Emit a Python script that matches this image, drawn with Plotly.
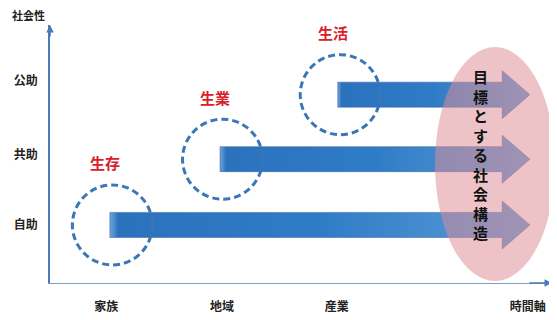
import plotly.graph_objects as go

# ---- data ----
x_labels = ["家族", "地域", "産業", "時間軸"]
x_pos = [1.12, 3.42, 5.7, 9.5]
y_labels = ["自助", "共助", "公助"]
y_label_pos = [2.25, 4.95, 7.85]
stages = ["生存", "生業", "生活"]
arrow_start = [1.19, 3.38, 5.72]
arrow_level = [2.25, 4.8, 7.3]
arrow_head_start = 8.99
arrow_tip = 9.54
goal_text = "目標とする社会構造"
y_title = "社会性"

OFF = 8  # page body margin
W, H = 557 - OFF, 320 - OFF
ML, MR, MT, MB = 50 - OFF, 4, 25 - OFF, 37
XR = [0, 10]
YR = [0, 10]
px_x = (W - ML - MR) / (XR[1] - XR[0])
px_y = (H - MT - MB) / (YR[1] - YR[0])

FONT = "Noto Sans CJK JP"

fig = go.Figure()

bar_h = 12.5 / px_y
head_h = 24 / px_y
for xs, yl in zip(arrow_start, arrow_level):
    xsq = [xs, arrow_head_start, arrow_head_start, arrow_tip,
           arrow_head_start, arrow_head_start, xs, xs]
    ysq = [yl - bar_h, yl - bar_h, yl - head_h, yl,
           yl + head_h, yl + bar_h, yl + bar_h, yl - bar_h]
    fig.add_trace(go.Scatter(
        x=xsq, y=ysq, mode="lines", fill="toself",
        line=dict(color="rgba(60,90,160,0.5)", width=1),
        fillgradient=dict(type="horizontal",
                          colorscale=[[0, "#6fa6da"], [0.02, "#2b72bd"],
                                      [0.5, "#2f7cc6"], [1, "#5b9bd8"]]),
        hoverinfo="skip", showlegend=False))

shapes = []
# goal ellipse (tinting arrows): page px x 435-555, y 47-281
shapes.append(dict(type="circle", xref="x", yref="y",
                   x0=(435 - 50) / px_x, x1=(555 - 50) / px_x,
                   y0=2 / px_y, y1=236 / px_y,
                   fillcolor="rgba(222,140,150,0.52)", line=dict(width=0),
                   layer="above"))
# dashed circles
rx = 40 / px_x
ry = 40 / px_y
for xs, yl in zip(arrow_start, arrow_level):
    shapes.append(dict(type="circle", xref="x", yref="y",
                       x0=xs + 0.05 - rx, x1=xs + 0.05 + rx,
                       y0=yl - ry, y1=yl + ry,
                       line=dict(color="#3b76b6", width=3, dash="7px,4px"),
                       layer="above"))
fig.update_layout(shapes=shapes)

ann = []
for s, xs, yl in zip(stages, arrow_start, arrow_level):
    ann.append(dict(x=xs - 0.1, y=yl + ry, yshift=22, text="<b>%s</b>" % s,
                    showarrow=False, font=dict(family=FONT, size=15, color="#d9202a")))
ann.append(dict(x=(480 - 50) / px_x, y=5.0, text="<br>".join("<b>%s</b>" % c for c in goal_text),
                showarrow=False, font=dict(family=FONT, size=15, color="#111111")))
# axis arrows
ann.append(dict(x=0, y=YR[1], ax=0, ay=YR[1] - 0.5, xref="x", yref="y", axref="x", ayref="y",
                showarrow=True, arrowhead=2, arrowsize=1, arrowwidth=1.5,
                arrowcolor="#4a7bb4", text=""))
ann.append(dict(x=XR[1] - 0.02, y=0, ax=XR[1] - 0.5, ay=0, xref="x", yref="y", axref="x", ayref="y",
                showarrow=True, arrowhead=2, arrowsize=1, arrowwidth=1.5,
                arrowcolor="#4a7bb4", text=""))
ann.append(dict(xref="paper", yref="paper",
                x=(28 - 50) / (W - ML - MR), y=1 + (25 - 15) / (H - MT - MB),
                xanchor="center", yanchor="middle", text="<b>%s</b>" % y_title,
                showarrow=False, font=dict(family=FONT, size=11, color="#222222")))
fig.update_layout(annotations=ann)

fig.update_xaxes(range=XR, tickvals=x_pos, ticktext=["<b>%s</b>" % t for t in x_labels],
                 showgrid=False, zeroline=False, showline=True, linecolor="#7f9fc4", linewidth=1.2,
                 ticks="", ticklabelstandoff=12, automargin=False,
                 tickfont=dict(family=FONT, size=12, color="#222222"))
fig.update_yaxes(range=YR, tickvals=y_label_pos, ticktext=["<b>%s</b>" % t for t in y_labels],
                 showgrid=False, zeroline=False, showline=True, linecolor="#4a7bb4", linewidth=1.5,
                 ticks="", ticklabelstandoff=8, automargin=False,
                 tickfont=dict(family=FONT, size=12, color="#222222"))
fig.update_layout(width=W, height=H, margin=dict(l=ML, r=MR, t=MT, b=MB, autoexpand=False),
                  plot_bgcolor="white", paper_bgcolor="white")
fig.write_html("out.html")
